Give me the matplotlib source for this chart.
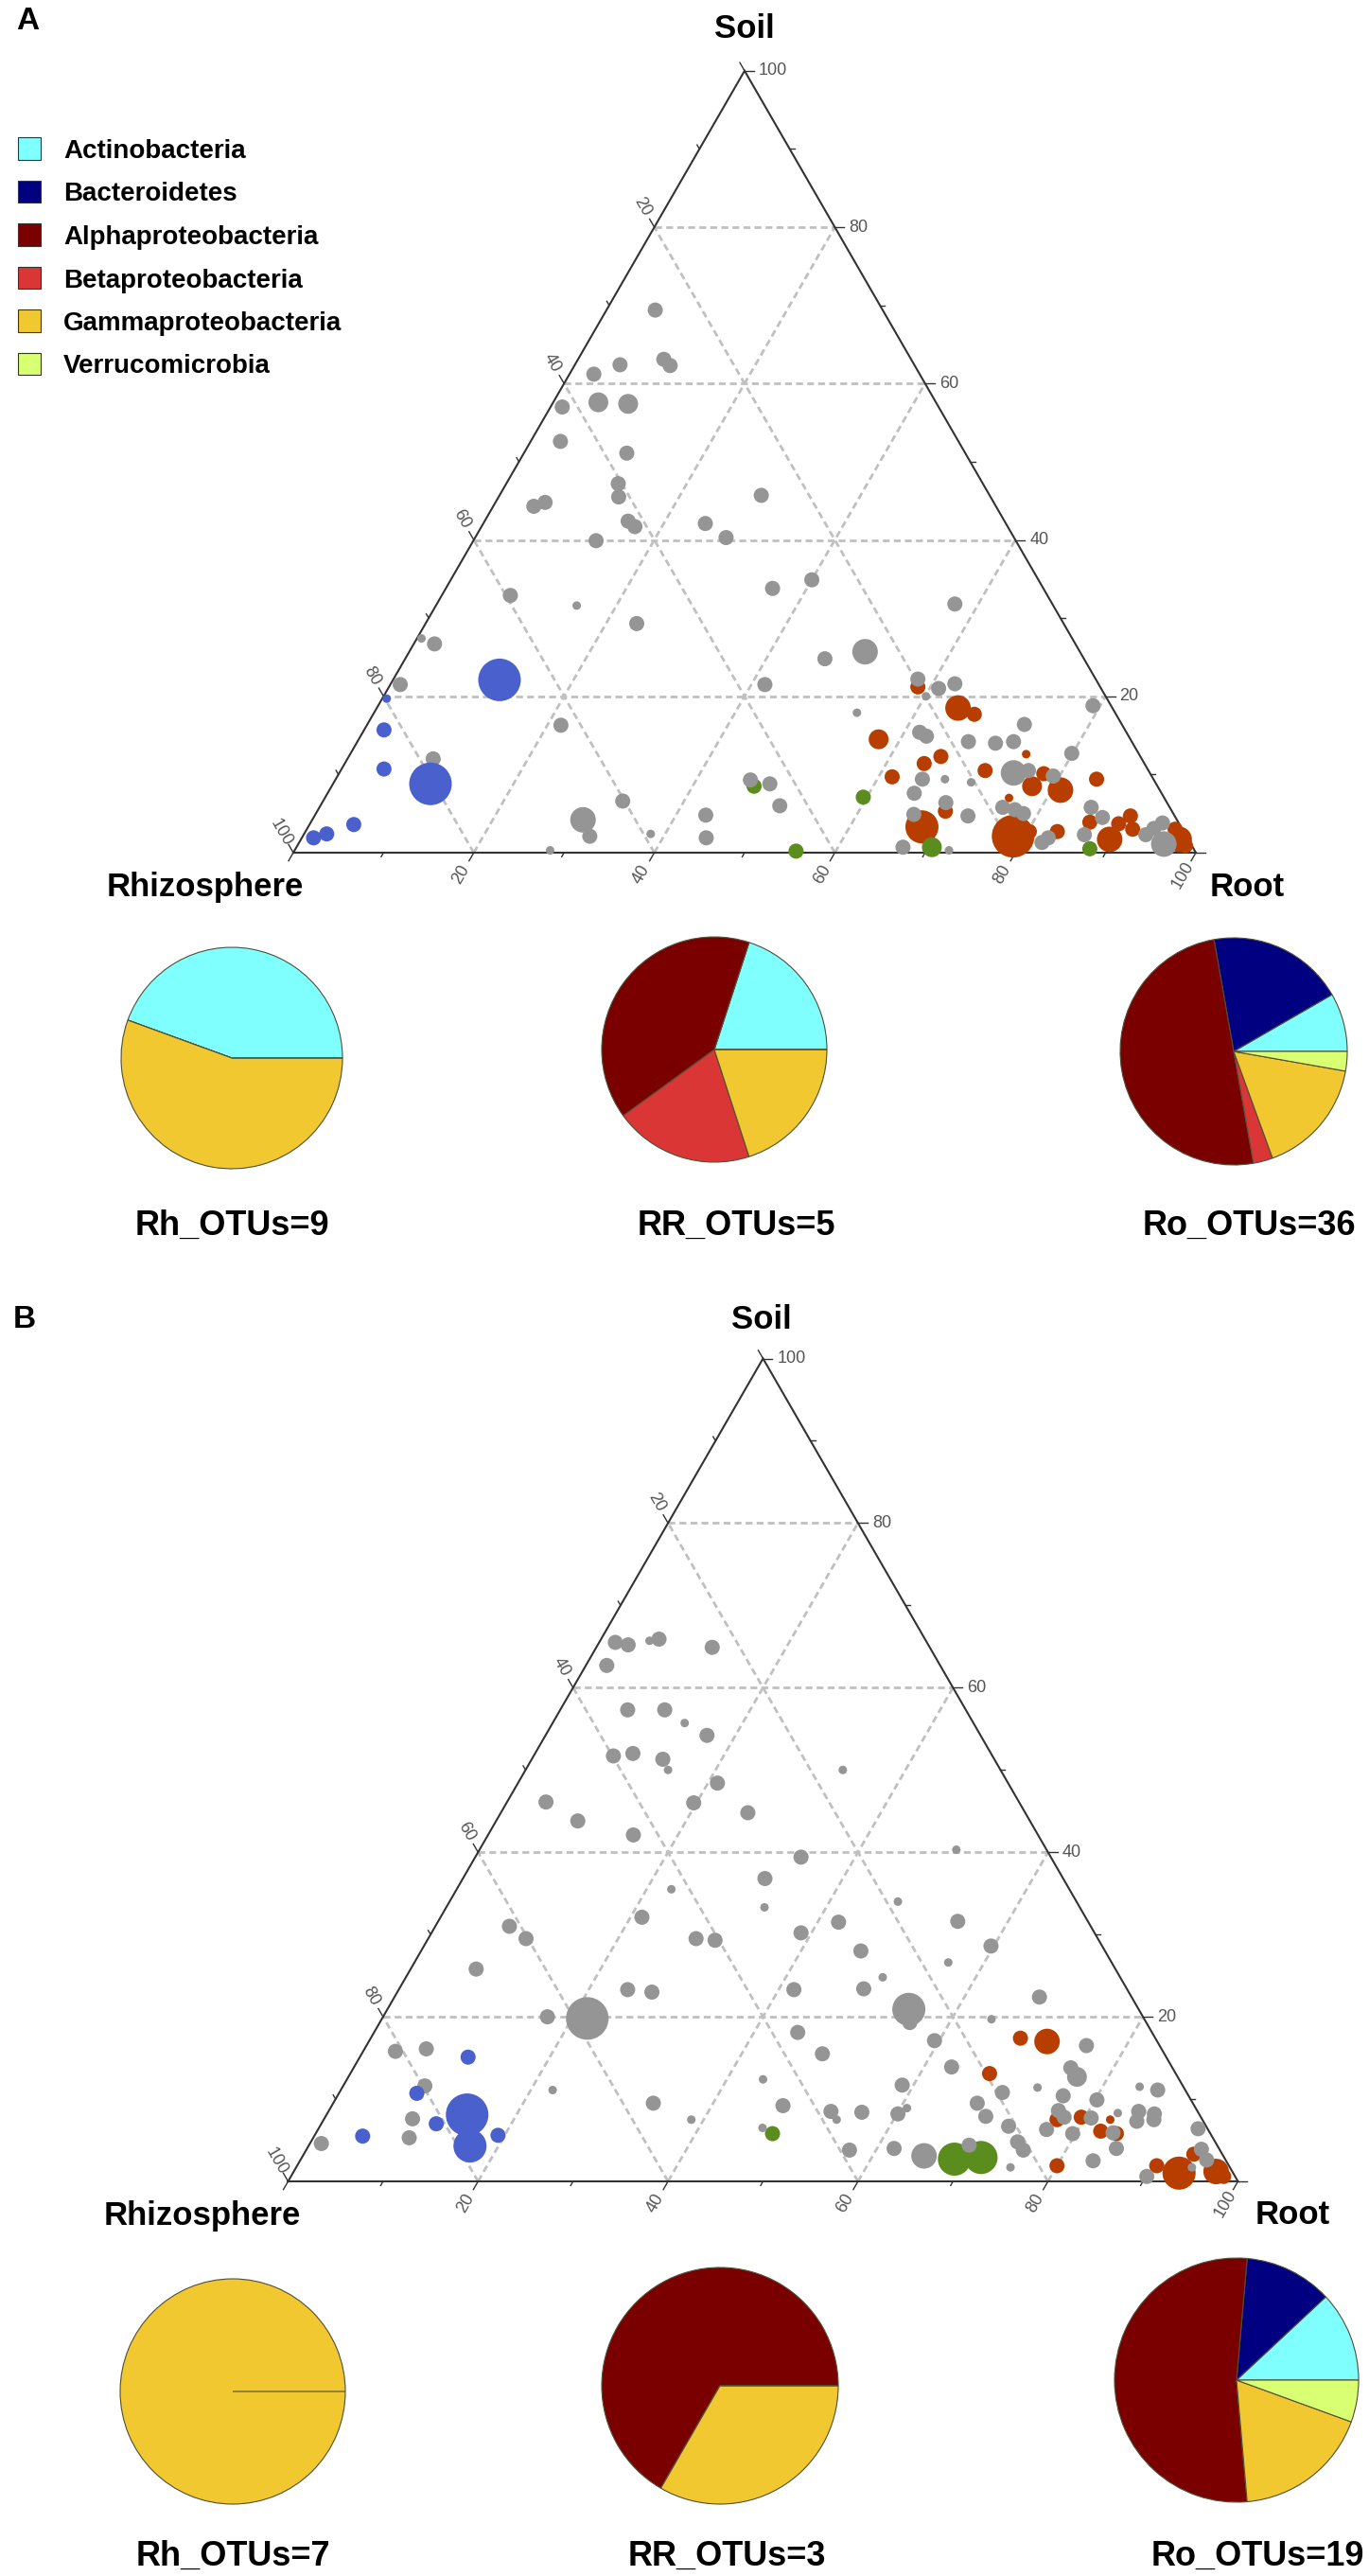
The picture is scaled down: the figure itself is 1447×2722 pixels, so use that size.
import numpy as np
import matplotlib
matplotlib.use("Agg")
import matplotlib.pyplot as plt
from matplotlib.patches import Rectangle

plt.rcParams['font.family'] = ['Liberation Sans', 'DejaVu Sans']

W, H = 1447, 2722
SQ = np.sqrt(3) / 2

# taxa shown in the legend and in the pies (legend order = pie order)
categories = ['Actinobacteria', 'Bacteroidetes', 'Alphaproteobacteria',
              'Betaproteobacteria', 'Gammaproteobacteria', 'Verrucomicrobia']
cat_colors = ['#80ffff', '#000080', '#7a0000', '#da3636', '#f1c830', '#d9ff73']

# OTU points: (soil %, root %, size class); rhizosphere % = 100 - soil - root
A_other = [(69.4, 5.4, 2), (61.2, 2.7, 2), (62.4, 5.0, 2), (63.1, 9.5, 2), (62.3, 10.6, 2),
           (57.0, 1.3, 2), (57.6, 5.0, 3), (57.4, 8.4, 3), (52.6, 3.3, 2), (51.1, 11.4, 2),
           (47.2, 12.4, 2), (45.5, 13.3, 2), (44.3, 4.5, 2), (44.8, 5.5, 2), (42.4, 15.9, 2),
           (41.7, 17.0, 2), (39.9, 13.6, 2), (42.1, 24.6, 2), (40.3, 27.8, 2), (45.7, 29.0, 2),
           (32.9, 7.6, 2), (31.6, 15.6, 1), (29.3, 23.4, 2), (33.8, 36.2, 2), (34.9, 40.0, 2),
           (31.8, 57.4, 2), (25.7, 50.5, 4), (24.8, 46.5, 2), (26.7, 2.3, 2), (27.4, 0.5, 1),
           (21.5, 1.1, 2), (21.5, 41.5, 2), (17.9, 53.5, 1), (16.3, 21.5, 2), (12.0, 9.5, 2),
           (9.3, 46.0, 2), (8.8, 48.4, 2), (6.0, 50.9, 2), (6.6, 33.2, 2), (4.2, 30.0, 4),
           (2.1, 31.8, 2), (2.4, 38.4, 1), (4.8, 43.3, 2), (1.9, 44.8, 2), (0.3, 28.3, 1),
           (0.7, 67.2, 2), (22.2, 58.1, 2), (21.0, 61.0, 2), (21.6, 62.5, 2), (20.0, 60.1, 1),
           (18.8, 79.2, 2), (16.4, 72.8, 2), (15.4, 61.7, 2), (14.9, 62.7, 2), (14.2, 67.7, 2),
           (14.0, 70.8, 2), (14.2, 72.7, 2), (12.7, 79.9, 2), (9.4, 65.0, 2), (9.4, 67.5, 1),
           (7.6, 65.0, 2), (9.0, 70.6, 1), (10.2, 74.7, 4), (10.5, 76.2, 2), (9.8, 79.3, 2),
           (6.4, 69.1, 2), (4.9, 66.3, 2), (4.7, 72.4, 2), (5.8, 75.7, 2), (5.5, 77.2, 2),
           (5.0, 78.4, 2), (1.3, 82.3, 2), (1.9, 82.7, 2), (5.8, 85.5, 2), (4.5, 87.4, 2),
           (2.3, 86.5, 2), (2.3, 93.3, 2), (3.1, 93.8, 2), (3.8, 94.4, 2), (1.1, 95.9, 4),
           (0.3, 72.5, 1)]
A_root = [(21.2, 58.6, 2), (18.5, 64.4, 4), (17.7, 66.6, 2), (12.6, 74.9, 1), (11.4, 64.2, 2),
          (12.3, 65.6, 2), (10.5, 71.4, 2), (10.1, 78.1, 2), (8.5, 77.6, 3), (8.0, 81.0, 4),
          (9.4, 84.3, 2), (7.0, 75.8, 1), (5.3, 69.6, 2), (3.3, 68.0, 5), (2.1, 78.7, 6),
          (2.7, 80.2, 2), (2.7, 83.3, 2), (3.9, 86.3, 2), (1.7, 89.6, 4), (3.7, 89.6, 2),
          (4.7, 90.4, 2), (3.0, 91.5, 2), (1.7, 97.3, 4), (0.9, 98.4, 2), (3.0, 96.2, 2),
          (14.5, 57.6, 3), (9.7, 61.5, 2)]
A_rr = [(8.5, 46.8, 2), (7.1, 59.6, 2), (0.2, 55.6, 2), (0.7, 70.4, 3), (0.5, 88.0, 2)]
A_rh = [(22.1, 11.8, 6), (8.8, 10.8, 6), (15.7, 2.2, 2), (10.7, 4.7, 2), (3.6, 4.9, 2),
        (2.4, 2.5, 2), (1.9, 1.3, 2), (19.7, 0.5, 1)]

B_other = [(65.5, 1.7, 2), (65.2, 3.2, 2), (65.7, 5.2, 1), (65.9, 6.1, 2), (64.9, 12.2, 2),
           (62.7, 2.2, 2), (57.3, 7.1, 2), (57.3, 11.0, 2), (55.7, 13.9, 1), (54.2, 17.0, 2),
           (51.7, 8.4, 2), (52.0, 10.3, 2), (51.3, 13.8, 2), (50.0, 15.0, 1), (48.4, 21.0, 2),
           (46.0, 19.7, 2), (46.1, 4.1, 2), (43.8, 8.6, 2), (42.1, 15.3, 2), (44.8, 26.0, 2),
           (50.0, 33.4, 1), (39.4, 34.3, 2), (36.8, 31.8, 2), (35.5, 22.6, 1), (33.3, 33.5, 1),
           (32.1, 21.2, 2), (31.0, 7.8, 2), (29.5, 10.3, 2), (29.5, 28.2, 2), (29.3, 30.3, 2),
           (30.2, 38.9, 2), (31.5, 42.2, 2), (34.0, 47.2, 1), (40.3, 50.2, 1), (31.6, 54.7, 2),
           (28.6, 59.7, 2), (25.8, 6.9, 2), (23.3, 24.1, 2), (23.0, 26.8, 2), (20.0, 17.3, 2),
           (19.8, 21.6, 6), (15.8, 3.4, 2), (16.1, 6.5, 2), (11.6, 8.6, 2), (7.6, 9.3, 2),
           (5.3, 10.1, 2), (4.6, 1.2, 2), (11.1, 22.3, 1), (9.5, 33.7, 2),
           (28.0, 46.3, 2), (26.6, 56.2, 1), (24.8, 50.2, 1), (23.3, 41.6, 2), (23.4, 48.9, 2),
           (20.9, 54.9, 5), (19.3, 55.8, 2), (18.1, 44.6, 2), (17.1, 59.5, 2), (15.5, 48.5, 2),
           (13.9, 62.9, 2), (12.4, 43.8, 1), (11.7, 58.8, 2), (9.2, 47.5, 2), (8.5, 52.9, 2),
           (7.5, 54.0, 1), (8.4, 56.2, 2), (8.2, 60.1, 2), (8.9, 60.7, 1), (7.5, 38.7, 1),
           (6.5, 46.7, 1), (3.8, 57.2, 2), (4.0, 61.8, 2), (3.1, 65.4, 4),
           (22.4, 67.9, 2), (19.7, 64.2, 1), (16.5, 75.8, 2), (13.8, 75.5, 2), (12.7, 76.7, 3),
           (11.4, 73.2, 1), (10.8, 69.8, 2), (11.5, 83.9, 1), (11.1, 86.0, 2), (10.4, 76.4, 2),
           (9.9, 80.2, 2), (9.5, 67.8, 2), (8.6, 76.8, 2), (7.8, 77.8, 2), (7.9, 69.5, 2),
           (7.7, 80.7, 2), (8.3, 83.2, 1), (8.5, 85.3, 2), (7.3, 85.7, 2), (8.2, 87.1, 2),
           (7.5, 87.4, 2), (6.7, 72.5, 2), (6.3, 76.7, 2), (5.8, 79.7, 2), (5.9, 83.9, 2),
           (4.0, 85.2, 2), (4.8, 74.4, 2), (3.8, 75.5, 2), (4.4, 69.5, 2), (1.7, 75.2, 1),
           (2.5, 83.5, 2), (6.4, 92.6, 2), (3.9, 94.2, 2), (2.6, 95.4, 2), (1.7, 94.3, 1),
           (0.6, 90.1, 2)]
B_root = [(17.4, 68.4, 2), (17.0, 71.4, 4), (13.1, 67.3, 2), (7.8, 79.6, 2), (7.5, 82.8, 1),
          (6.1, 82.5, 2), (5.8, 84.3, 2), (7.5, 77.2, 2), (1.9, 80.0, 2), (1.9, 90.5, 2),
          (1.0, 93.3, 5), (1.2, 97.1, 4), (3.3, 93.7, 2), (0.6, 98.2, 2)]
B_rr = [(2.7, 68.8, 5), (2.9, 71.5, 5), (5.8, 48.1, 2)]
B_rh = [(15.1, 11.4, 2), (10.7, 8.2, 2), (8.1, 14.8, 6), (4.3, 17.0, 5), (7.0, 12.1, 2),
        (5.6, 19.3, 2), (5.5, 5.1, 2)]

# OTU counts per taxon for the pies (order = categories)
A_pies = [[4, 0, 0, 0, 5, 0], [1, 0, 2, 1, 1, 0], [3, 7, 18, 1, 6, 1]]
B_pies = [[0, 0, 0, 0, 7, 0], [0, 0, 2, 0, 1, 0], [43, 42, 190, 0, 65, 20]]
A_pie_labels = ['Rh_OTUs=9', 'RR_OTUs=5', 'Ro_OTUs=36']
B_pie_labels = ['Rh_OTUs=7', 'RR_OTUs=3', 'Ro_OTUs=19']

ticks = [20, 40, 60, 80, 100]

grp_colors = {'other': '#959595', 'root': '#b83e00', 'rr': '#5b8c1e', 'rh': '#4a60cc'}
size_px = {1: 4.5, 2: 8, 3: 10.5, 4: 13.5, 5: 17.5, 6: 22.5}

fig = plt.figure(figsize=(W / 100, H / 100), dpi=100)


def ftext(x, y, s, size, **kw):
    # y is the visual centre of the capitals, in pixels from the top
    base = y + 0.36 * size / 0.72
    fig.text(x / W, 1 - base / H, s, fontsize=size, va='baseline', **kw)


def tern(soil, root):
    soil = np.asarray(soil, dtype=float) / 100
    root = np.asarray(root, dtype=float) / 100
    return root + soil / 2, soil * SQ


def triangle(left, base_y, side, groups):
    pad = 0.08
    ax = fig.add_axes([(left - pad * side) / W, (H - base_y - pad * side) / H,
                       side * (1 + 2 * pad) / W, side * (SQ + 2 * pad) / H])
    ax.set_xlim(-pad, 1 + pad)
    ax.set_ylim(-pad, SQ + pad)
    ax.axis('off')
    px = 1.0 / side
    grid_kw = dict(color='#c0c0c0', lw=2.0, ls=(0, (2.6, 1.6)), zorder=1)
    for v in ticks[:-1]:
        ax.plot(*tern([v, v], [0, 100 - v]), **grid_kw)
        ax.plot(*tern([0, 100 - v], [v, v]), **grid_kw)
        ax.plot(*tern([0, 100 - v], [100 - v, 0]), **grid_kw)
    ax.plot(*tern([0, 0, 100, 0], [0, 100, 0, 0]), color='#333333', lw=1.5, zorder=2,
            solid_joinstyle='miter')

    dirs = {'soil': (1.0, 0.0), 'rh': (-0.5, SQ), 'root': (-0.5, -SQ)}
    for v in range(0, 101, 10):
        major = v % 20 == 0
        ln = (10 if major else 5) * px
        pts = {'soil': tern(v, 100 - v), 'rh': tern(100 - v, 0), 'root': tern(0, v)}
        for key, (x, y) in pts.items():
            dx, dy = dirs[key]
            ax.plot([x, x + dx * ln], [y, y + dy * ln], color='#333333', lw=1.0, zorder=2)
            if not major or v == 0:
                continue
            if key == 'soil':
                ax.text(x + 15 * px, y, str(v), ha='left', va='center',
                        fontsize=13, color='#555555')
            elif key == 'rh':
                ax.text(x + dx * 25 * px, y + dy * 25 * px, str(v), ha='center',
                        va='center', rotation=-60, fontsize=13, color='#555555')
            else:
                ax.text(x + dx * 27 * px, y + dy * 27 * px, str(v), ha='center',
                        va='center', rotation=60, fontsize=13, color='#555555')

    for name, pts in groups:
        arr = np.array(pts, dtype=float)
        x, y = tern(arr[:, 0], arr[:, 1])
        s = [(1.44 * size_px[int(k)]) ** 2 for k in arr[:, 2]]
        ax.scatter(x, y, s=s, c=grp_colors[name], linewidths=0, zorder=3)
    return ax


def pie(cx, cy, r, vals):
    m = 1.03
    ax = fig.add_axes([(cx - m * r) / W, 1 - (cy + m * r) / H, 2 * m * r / W, 2 * m * r / H])
    ax.pie(vals, colors=cat_colors, startangle=0, counterclock=True,
           wedgeprops=dict(edgecolor='#4f4f38', linewidth=0.8))
    ax.set_xlim(-m, m)
    ax.set_ylim(-m, m)
    ax.set_aspect('equal')
    ax.axis('off')


# ---- panel A ----
triangle(310, 901, 954, [('root', A_root), ('rr', A_rr), ('other', A_other), ('rh', A_rh)])
ftext(29, 19, 'A', 24, ha='center', fontweight='bold')
ftext(787, 27, 'Soil', 25, ha='center', fontweight='bold')
ftext(217, 934, 'Rhizosphere', 25, ha='center', fontweight='bold')
ftext(1318, 934, 'Root', 25, ha='center', fontweight='bold')

for i, (cat, col) in enumerate(zip(categories, cat_colors)):
    yc = 157 + i * 45.5
    fig.add_artist(Rectangle((19 / W, 1 - (yc + 11.5) / H), 24 / W, 23 / H,
                             transform=fig.transFigure, facecolor=col,
                             edgecolor='#333333', linewidth=0.8))
    ftext(67, yc, cat, 20, ha='left', fontweight='bold')

for (cx, cy, r), vals, lab, lx in zip([(245, 1118, 117), (755, 1109, 119), (1304, 1111, 120)],
                                      A_pies, A_pie_labels, [245, 778, 1320]):
    pie(cx, cy, r, vals)
    ftext(lx, 1292, lab, 26, ha='center', fontweight='bold')

# ---- panel B ----
triangle(304.5, 2305, 1004, [('root', B_root), ('rr', B_rr), ('other', B_other), ('rh', B_rh)])
ftext(26, 1391, 'B', 24, ha='center', fontweight='bold')
ftext(805, 1391, 'Soil', 25, ha='center', fontweight='bold')
ftext(214, 2338, 'Rhizosphere', 25, ha='center', fontweight='bold')
ftext(1366, 2338, 'Root', 25, ha='center', fontweight='bold')

for (cx, cy, r), vals, lab, lx in zip([(246, 2527, 119), (761, 2521, 125), (1307, 2515, 129)],
                                      B_pies, B_pie_labels, [246, 768, 1329]):
    pie(cx, cy, r, vals)
    ftext(lx, 2698, lab, 26, ha='center', fontweight='bold')

fig.savefig('out.png', dpi=100)
